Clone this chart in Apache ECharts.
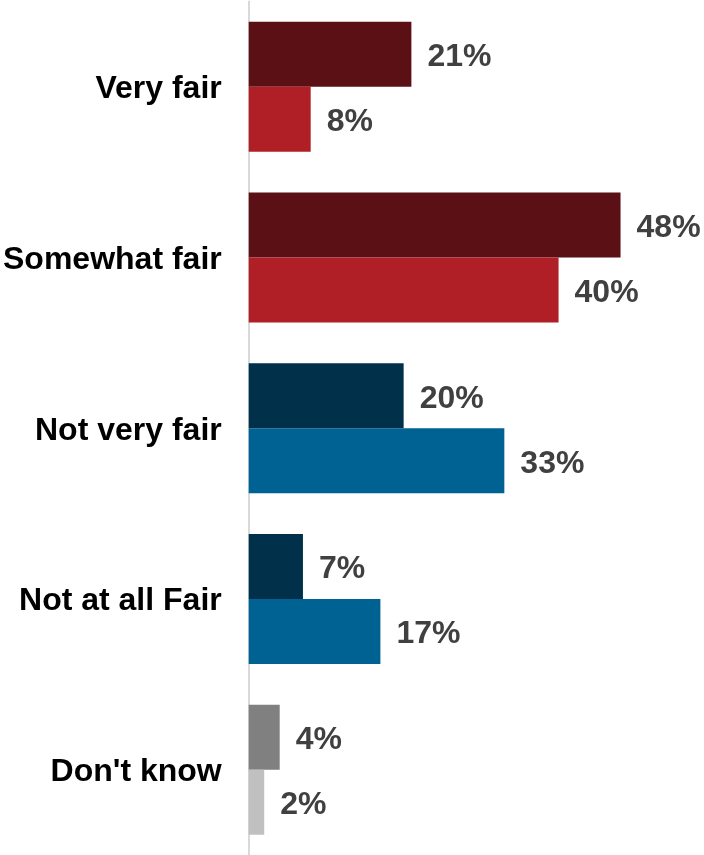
<!DOCTYPE html>
<html>
<head>
<meta charset="utf-8">
<script src="https://cdn.jsdelivr.net/npm/echarts@6/dist/echarts.min.js"></script>
<style>
html,body{margin:0;padding:0;background:#fff;}
#chart{width:704px;height:855px;}
</style>
</head>
<body>
<div id="chart"></div>
<script>
const categories = ["Very fair", "Somewhat fair", "Not very fair", "Not at all Fair", "Don't know"];
const seriesA = [21, 48, 20, 7, 4];
const seriesB = [8, 40, 33, 17, 2];
const colorsA = ["#5a1015", "#5a1015", "#01304a", "#01304a", "#808080"];
const colorsB = ["#b01f25", "#b01f25", "#006292", "#006292", "#c0c0c0"];

const chart = echarts.init(document.getElementById('chart'));
const labelStyle = {
  show: true,
  position: 'right',
  distance: 16,
  offset: [0, 3],
  formatter: '{c}%',
  fontSize: 32,
  fontWeight: 'bold',
  fontFamily: 'Liberation Sans, Arial, sans-serif',
  color: '#404040'
};
chart.setOption({
  animation: false,
  grid: { left: 248, top: 1.5, height: 856, width: 450, containLabel: false },
  xAxis: {
    type: 'value', min: 0, max: 58,
    show: false
  },
  yAxis: {
    type: 'category',
    data: categories,
    inverse: true,
    axisLine: { show: true, lineStyle: { color: '#d9d9d9', width: 2 } },
    axisTick: { show: false },
    axisLabel: {
      margin: 27,
      fontSize: 32,
      fontWeight: 'bold',
      fontFamily: 'Liberation Sans, Arial, sans-serif',
      color: '#000',
      formatter: function (v) { return '{a|' + v + '}'; },
      rich: {
        a: {
          fontSize: 32,
          fontWeight: 'bold',
          fontFamily: 'Liberation Sans, Arial, sans-serif',
          color: '#000',
          padding: [5, 0, 0, 0]
        }
      }
    }
  },
  series: [
    {
      type: 'bar',
      barWidth: 65,
      barGap: '0%',
      data: seriesA.map((v, i) => ({ value: v, itemStyle: { color: colorsA[i] } })),
      label: labelStyle
    },
    {
      type: 'bar',
      barWidth: 65,
      barGap: '0%',
      data: seriesB.map((v, i) => ({ value: v, itemStyle: { color: colorsB[i] } })),
      label: labelStyle
    }
  ]
});
</script>
</body>
</html>
